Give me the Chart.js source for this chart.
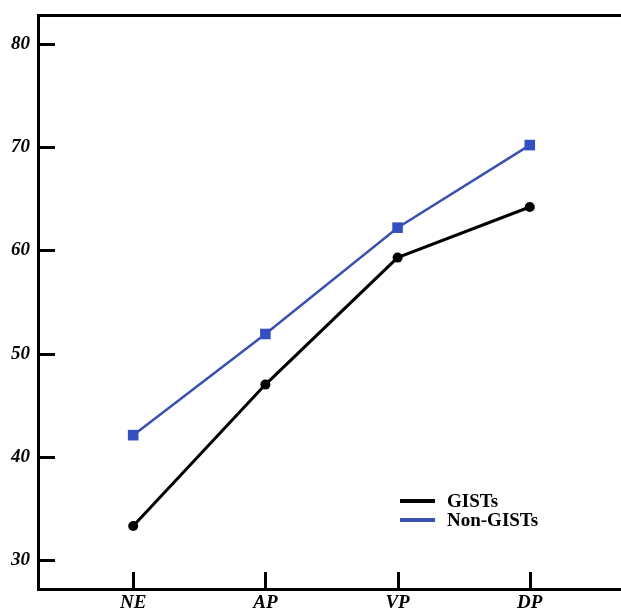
<!DOCTYPE html>
<html>
<head>
<meta charset="utf-8">
<script src="https://cdn.jsdelivr.net/npm/chart.js@4/dist/chart.umd.min.js"></script>
<style>
  html, body { margin: 0; padding: 0; background: #ffffff; overflow: hidden; }
  #wrap { width: 621px; height: 613px; }
  canvas { display: block; }
</style>
</head>
<body>
<div id="wrap"><canvas id="c" width="621" height="613"></canvas></div>
<script>
// ---- data ----
const categories = ["NE", "AP", "VP", "DP"];
const gistsValues = [33.3, 47.0, 59.3, 64.2];
const nonGistsValues = [42.1, 51.9, 62.2, 70.2];
const yTickValues = [30, 40, 50, 60, 70, 80];
const seriesNames = ["GISTs", "Non-GISTs"];

const catPositions = categories.map((c, i) => i + 1);
const toPoints = vals => vals.map((v, i) => ({ x: catPositions[i], y: v }));

const tickFont = { family: "'Liberation Serif', 'DejaVu Serif', serif", size: 19, weight: "bold", style: "italic" };

const innerTicks = {
  id: "innerTicks",
  afterDraw(chart) {
    const { ctx, chartArea } = chart;
    const xs = chart.scales.x, ys = chart.scales.y;
    ctx.save();
    ctx.strokeStyle = "#000";
    ctx.lineWidth = 3;
    ctx.lineCap = "butt";
    ys.ticks.forEach(t => {
      const y = Math.round(ys.getPixelForValue(t.value)) + 0.5;
      ctx.beginPath();
      ctx.moveTo(chartArea.left, y);
      ctx.lineTo(chartArea.left + 17, y);
      ctx.stroke();
    });
    xs.ticks.forEach(t => {
      const x = Math.round(xs.getPixelForValue(t.value)) + 0.5;
      ctx.beginPath();
      ctx.moveTo(x, chartArea.bottom);
      ctx.lineTo(x, chartArea.bottom - 17);
      ctx.stroke();
    });
    // legend
    const lx = chartArea.left + 362, ly = chartArea.top + 486;
    chart.data.datasets.forEach((ds, i) => {
      const y = ly + i * 19;
      ctx.strokeStyle = ds.borderColor;
      ctx.lineWidth = 4;
      ctx.beginPath();
      ctx.moveTo(lx, y);
      ctx.lineTo(lx + 35, y);
      ctx.stroke();
      ctx.fillStyle = "#000";
      ctx.font = "bold 19px 'Liberation Serif', serif";
      ctx.textBaseline = "middle";
      ctx.textAlign = "left";
      ctx.fillText(ds.label, lx + 47, y + 1);
    });
    ctx.restore();
  }
};

new Chart(document.getElementById("c"), {
  type: "line",
  data: {
    datasets: [
      {
        label: seriesNames[0],
        data: toPoints(gistsValues),
        borderColor: "#000000",
        backgroundColor: "#000000",
        borderWidth: 3,
        pointStyle: "circle",
        pointRadius: 5,
        pointBackgroundColor: "#000000",
        pointBorderWidth: 0,
        tension: 0
      },
      {
        label: seriesNames[1],
        data: toPoints(nonGistsValues),
        borderColor: "#3b51b0",
        backgroundColor: "#3450c0",
        borderWidth: 2.5,
        pointStyle: "rect",
        pointRadius: 7.5,
        pointBackgroundColor: "#3450c0",
        pointBorderWidth: 0,
        tension: 0
      }
    ]
  },
  options: {
    responsive: false,
    animation: false,
    devicePixelRatio: 1,
    layout: { autoPadding: false, padding: { top: 15, right: 0, left: 0, bottom: 0 } },
    plugins: { legend: { display: false }, tooltip: { enabled: false } },
    scales: {
      x: {
        type: "linear",
        position: "bottom",
        min: 0.28,
        max: 4.69,
        afterBuildTicks: s => { s.ticks = catPositions.map(v => ({ value: v })); },
        afterFit: s => { s.height = 24; s.paddingLeft = 0; s.paddingRight = 0; },
        grid: { display: false, drawTicks: false },
        border: { display: true, color: "#000", width: 3 },
        ticks: {
          padding: 3,
          color: "#000",
          font: tickFont,
          maxRotation: 0,
          autoSkip: false,
          callback: v => categories[v - 1]
        }
      },
      x2: {
        type: "linear",
        position: "top",
        min: 0,
        max: 1,
        afterFit: s => { s.height = 0; s.paddingLeft = 0; s.paddingRight = 0; },
        grid: { display: false, drawTicks: false },
        border: { display: true, color: "#000", width: 3 },
        ticks: { display: false }
      },
      y: {
        type: "linear",
        position: "left",
        min: 27.2,
        max: 82.8,
        afterBuildTicks: s => { s.ticks = yTickValues.map(v => ({ value: v })); },
        afterFit: s => { s.width = 38; s.paddingTop = 0; s.paddingBottom = 0; },
        grid: { display: false, drawTicks: false },
        border: { display: true, color: "#000", width: 3 },
        ticks: {
          padding: 8,
          color: "#000",
          font: tickFont
        }
      }
    }
  },
  plugins: [innerTicks]
});
</script>
</body>
</html>
